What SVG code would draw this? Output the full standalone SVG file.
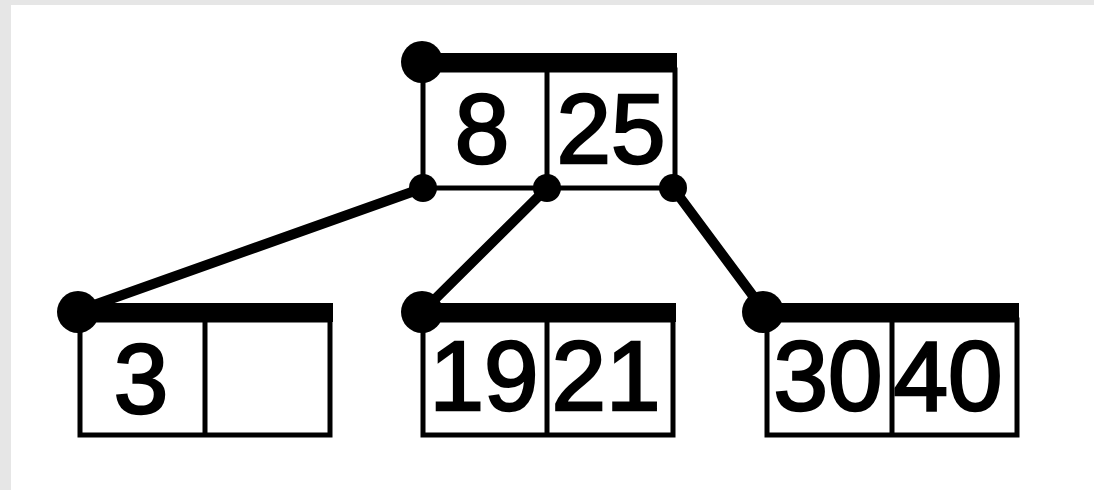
<svg xmlns="http://www.w3.org/2000/svg" width="1094" height="490" viewBox="0 0 1094 490">
<style>
.box{fill:#fff;stroke:#000;stroke-width:5}
.div{stroke:#000;stroke-width:5}
.bar{fill:#000}
.dot{fill:#000}
.edge{stroke:#000;stroke-width:10;stroke-linecap:round}
text{font-family:"Liberation Sans",Arial,sans-serif;font-size:98px;fill:#000;stroke:#000;stroke-width:2.5;text-anchor:middle}
</style>
<rect x="0" y="0" width="1094" height="490" fill="#fff"/>
<rect x="0" y="0" width="1094" height="5" fill="#e6e6e6"/>
<rect x="0" y="0" width="11" height="490" fill="#e6e6e6"/>
<g id="connectors">
<line class="edge" x1="423" y1="188" x2="80" y2="310"/>
<line class="edge" x1="547" y1="188" x2="422" y2="312"/>
<line class="edge" x1="673" y1="188" x2="765" y2="312"/>
</g>
<g id="root">
<rect class="box" x="423" y="70" width="252" height="118"/>
<line class="div" x1="547" y1="70" x2="547" y2="188"/>
<rect class="bar" x="422" y="53" width="255" height="19"/>
<circle class="dot" cx="422" cy="62" r="21"/>
<circle class="dot" cx="423" cy="188" r="14"/>
<circle class="dot" cx="547" cy="188" r="14"/>
<circle class="dot" cx="673" cy="188" r="14"/>
<text x="482" y="163">8</text>
<text x="611" y="163">25</text>
</g>
<g id="leaf-left">
<rect class="box" x="80" y="320" width="250" height="115"/>
<line class="div" x1="205" y1="320" x2="205" y2="435"/>
<rect class="bar" x="78" y="303" width="255" height="19"/>
<circle class="dot" cx="78" cy="312" r="21"/>
<text x="141" y="413">3</text>
</g>
<g id="leaf-mid">
<rect class="box" x="423" y="320" width="250" height="115"/>
<line class="div" x1="547" y1="320" x2="547" y2="435"/>
<rect class="bar" x="422" y="303" width="254" height="19"/>
<circle class="dot" cx="422" cy="312" r="21"/>
<text x="484" y="410">19</text>
<text x="606" y="410">21</text>
</g>
<g id="leaf-right">
<rect class="box" x="767" y="320" width="250" height="115"/>
<line class="div" x1="892" y1="320" x2="892" y2="435"/>
<rect class="bar" x="763" y="303" width="256" height="19"/>
<circle class="dot" cx="763" cy="312" r="21"/>
<text x="828" y="410">30</text>
<text x="948" y="410">40</text>
</g>
</svg>
